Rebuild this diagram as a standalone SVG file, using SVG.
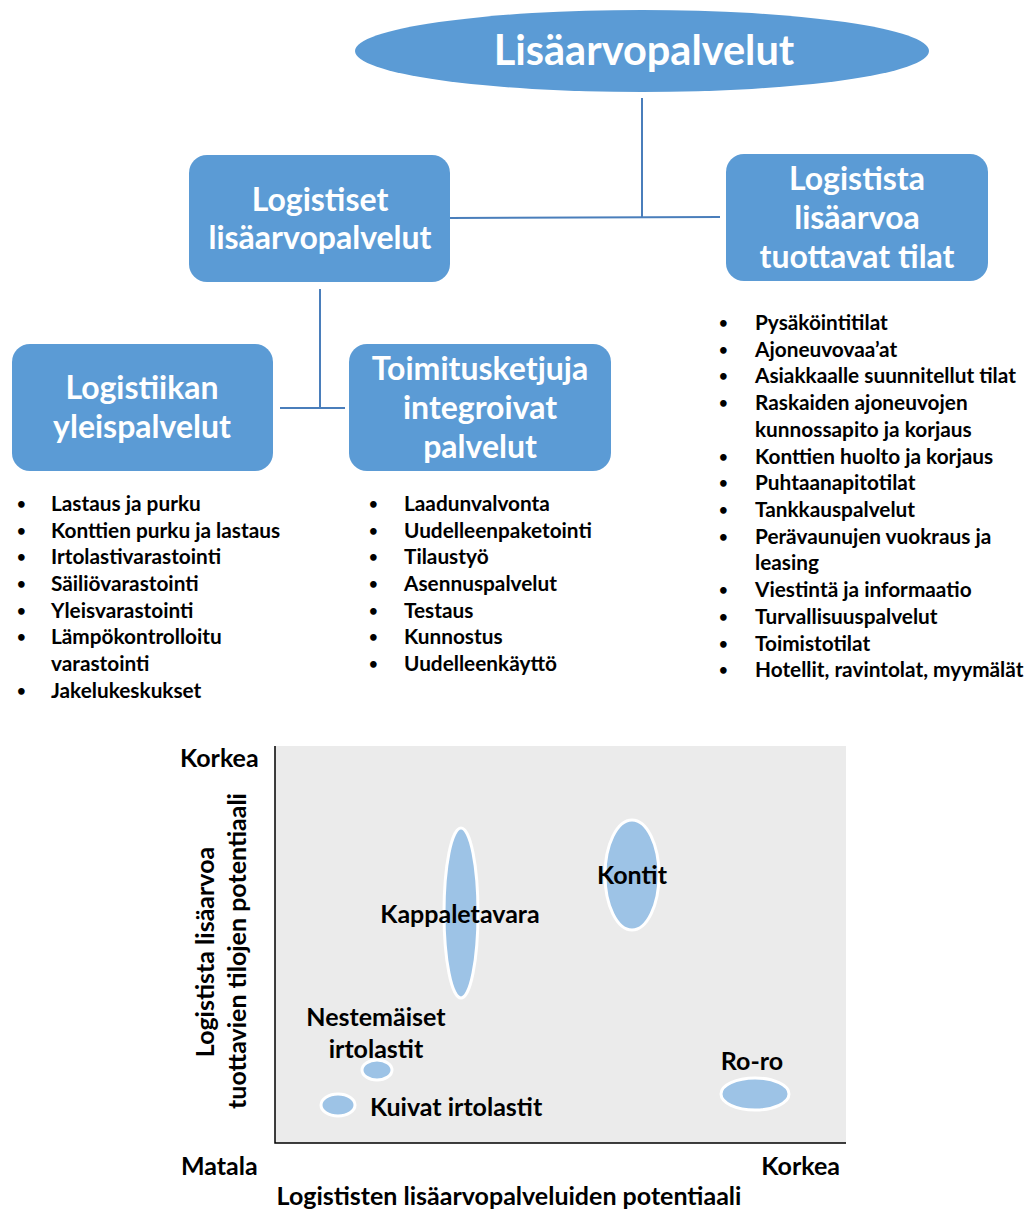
<svg xmlns="http://www.w3.org/2000/svg" width="1030" height="1209" viewBox="0 0 1030 1209">
<style>
.box{fill:#5b9bd5;}
.ht{font-family:Lato,"Open Sans","Liberation Sans",sans-serif;font-weight:700;fill:#ffffff;text-anchor:middle;font-size:32px;}
.title{font-size:41.5px;}
.li{font-family:Lato,"Open Sans","Liberation Sans",sans-serif;font-weight:700;fill:#000000;font-size:20.8px;}
.bl{font-size:15px;}
.ct{font-family:Lato,"Open Sans","Liberation Sans",sans-serif;font-weight:700;fill:#000000;font-size:25px;}
.conn{stroke:#4a7ebb;stroke-width:2;fill:none;}
.bub{fill:#9dc3e6;stroke:#ffffff;stroke-width:3;}
</style>
<g id="connectors">
<line class="conn" x1="642" y1="98" x2="642" y2="218"/>
<line class="conn" x1="450" y1="218" x2="720" y2="217"/>
<line class="conn" x1="320" y1="289" x2="320" y2="408"/>
<line class="conn" x1="280" y1="408" x2="345" y2="408"/>
</g>
<g id="root">
<ellipse class="box" cx="642" cy="51" rx="287" ry="41"/>
<text class="ht title" x="644" y="65">Lisäarvopalvelut</text>
</g>
<g id="logistiset">
<rect class="box" x="189" y="155" width="261" height="127" rx="18"/>
<text class="ht" x="320" y="211">Logistiset</text>
<text class="ht" x="320" y="249">lisäarvopalvelut</text>
</g>
<g id="tilat">
<rect class="box" x="726" y="154" width="262" height="127" rx="18"/>
<text class="ht" x="857" y="190">Logistista</text>
<text class="ht" x="857" y="229">lisäarvoa</text>
<text class="ht" x="857" y="268">tuottavat tilat</text>
</g>
<g id="yleispalvelut">
<rect class="box" x="12" y="344" width="261" height="127" rx="18"/>
<text class="ht" x="142" y="399">Logistiikan</text>
<text class="ht" x="142" y="438">yleispalvelut</text>
</g>
<g id="toimitusketjut">
<rect class="box" x="349" y="344" width="262" height="127" rx="18"/>
<text class="ht" x="480" y="380">Toimitusketjuja</text>
<text class="ht" x="480" y="419">integroivat</text>
<text class="ht" x="480" y="458">palvelut</text>
</g>
<g id="list-left" class="li">
<text class="bl" x="17" y="509">•</text><text x="51" y="511">Lastaus ja purku</text>
<text class="bl" x="17" y="536">•</text><text x="51" y="538">Konttien purku ja lastaus</text>
<text class="bl" x="17" y="562">•</text><text x="51" y="564">Irtolastivarastointi</text>
<text class="bl" x="17" y="589">•</text><text x="51" y="591">Säiliövarastointi</text>
<text class="bl" x="17" y="616">•</text><text x="51" y="618">Yleisvarastointi</text>
<text class="bl" x="17" y="642">•</text><text x="51" y="644">Lämpökontrolloitu</text>
<text x="51" y="671">varastointi</text>
<text class="bl" x="17" y="696">•</text><text x="51" y="698">Jakelukeskukset</text>
</g>
<g id="list-mid" class="li">
<text class="bl" x="369" y="509">•</text><text x="404" y="511">Laadunvalvonta</text>
<text class="bl" x="369" y="536">•</text><text x="404" y="538">Uudelleenpaketointi</text>
<text class="bl" x="369" y="562">•</text><text x="404" y="564">Tilaustyö</text>
<text class="bl" x="369" y="589">•</text><text x="404" y="591">Asennuspalvelut</text>
<text class="bl" x="369" y="616">•</text><text x="404" y="618">Testaus</text>
<text class="bl" x="369" y="642">•</text><text x="404" y="644">Kunnostus</text>
<text class="bl" x="369" y="669">•</text><text x="404" y="671">Uudelleenkäyttö</text>
</g>
<g id="list-right" class="li">
<text class="bl" x="719" y="328">•</text><text x="755" y="330">Pysäköintitilat</text>
<text class="bl" x="719" y="355">•</text><text x="755" y="357">Ajoneuvovaa’at</text>
<text class="bl" x="719" y="381">•</text><text x="755" y="383">Asiakkaalle suunnitellut tilat</text>
<text class="bl" x="719" y="408">•</text><text x="755" y="410">Raskaiden ajoneuvojen</text>
<text x="755" y="437">kunnossapito ja korjaus</text>
<text class="bl" x="719" y="462">•</text><text x="755" y="464">Konttien huolto ja korjaus</text>
<text class="bl" x="719" y="488">•</text><text x="755" y="490">Puhtaanapitotilat</text>
<text class="bl" x="719" y="515">•</text><text x="755" y="517">Tankkauspalvelut</text>
<text class="bl" x="719" y="542">•</text><text x="755" y="544">Perävaunujen vuokraus ja</text>
<text x="755" y="570">leasing</text>
<text class="bl" x="719" y="595">•</text><text x="755" y="597">Viestintä ja informaatio</text>
<text class="bl" x="719" y="622">•</text><text x="755" y="624">Turvallisuuspalvelut</text>
<text class="bl" x="719" y="649">•</text><text x="755" y="651">Toimistotilat</text>
<text class="bl" x="719" y="675">•</text><text x="755" y="677">Hotellit, ravintolat, myymälät</text>
</g>
<g id="chart">
<rect x="275" y="746" width="571" height="397" fill="#ebebeb"/>
<polyline points="275,746 275,1143 846,1143" fill="none" stroke="#000000" stroke-width="1.5"/>
<text class="ct" x="180" y="767">Korkea</text>
<text class="ct" x="181" y="1175">Matala</text>
<text class="ct" x="840" y="1175" text-anchor="end">Korkea</text>
<text class="ct" x="509" y="1205" text-anchor="middle">Logististen lisäarvopalveluiden potentiaali</text>
<text class="ct" transform="translate(214,952) rotate(-90)" text-anchor="middle">Logistista lisäarvoa</text>
<text class="ct" transform="translate(246,951) rotate(-90)" text-anchor="middle">tuottavien tilojen potentiaali</text>
</g>
<g id="kappaletavara">
<ellipse class="bub" cx="461" cy="913" rx="17" ry="85"/>
<text class="ct" x="460" y="923" text-anchor="middle">Kappaletavara</text>
</g>
<g id="kontit">
<ellipse class="bub" cx="632" cy="875" rx="27" ry="55"/>
<text class="ct" x="632" y="884" text-anchor="middle">Kontit</text>
</g>
<g id="nestemaiset">
<ellipse class="bub" cx="377" cy="1070" rx="15" ry="10"/>
<text class="ct" x="376" y="1026" text-anchor="middle">Nestemäiset</text>
<text class="ct" x="376" y="1058" text-anchor="middle">irtolastit</text>
</g>
<g id="kuivat">
<ellipse class="bub" cx="338" cy="1105" rx="17" ry="11"/>
<text class="ct" x="370" y="1116">Kuivat irtolastit</text>
</g>
<g id="roro">
<ellipse class="bub" cx="755" cy="1094" rx="34" ry="16"/>
<text class="ct" x="752" y="1070" text-anchor="middle">Ro-ro</text>
</g>
</svg>
